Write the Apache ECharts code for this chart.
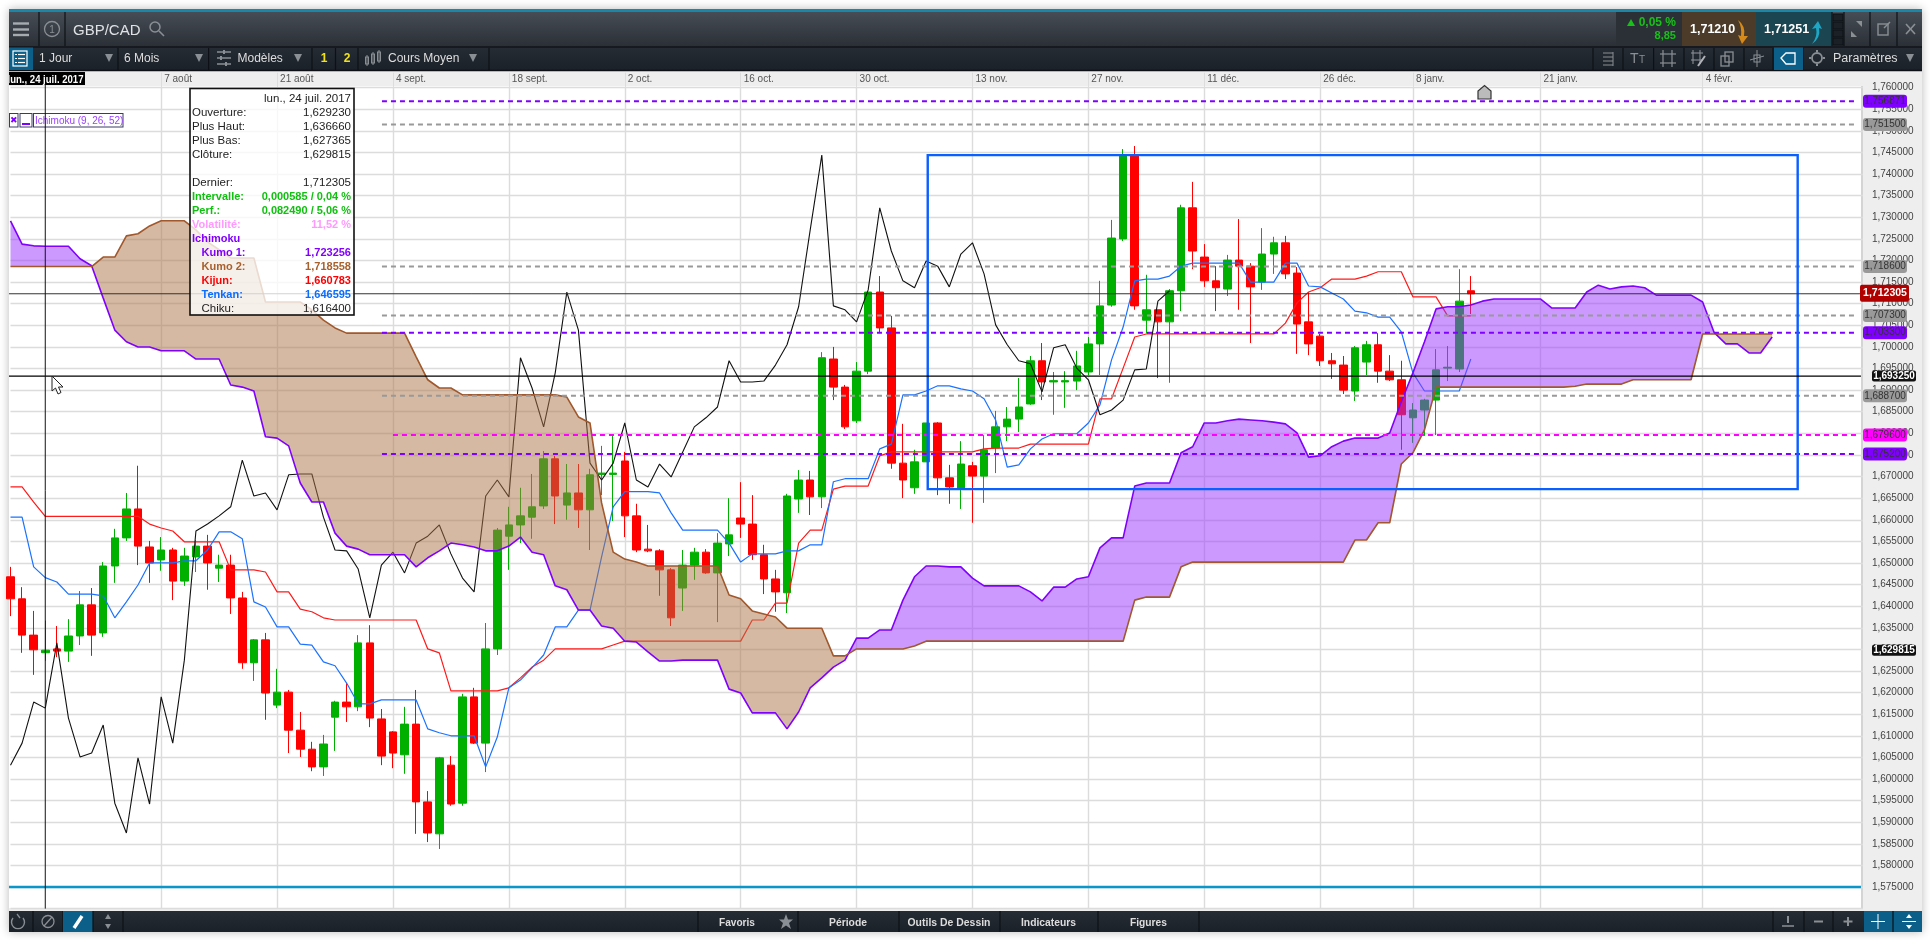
<!DOCTYPE html>
<html lang="fr"><head><meta charset="utf-8"><title>GBP/CAD</title>
<script src="https://cdn.jsdelivr.net/npm/echarts@6/dist/echarts.min.js"></script>
<style>
html,body{margin:0;padding:0;width:1930px;height:940px;background:#fff;overflow:hidden;font-family:"Liberation Sans",Arial,sans-serif}
#frame{position:absolute;left:9px;top:9px;width:1913px;height:923px;background:#fff;box-shadow:0 0 9px rgba(0,0,0,.28);z-index:0}
#band{position:absolute;left:9px;top:70px;width:1913px;height:16px;background:#eeeeee;z-index:1}
#strip{position:absolute;left:1861px;top:86px;width:61px;height:825px;background:#eeeeee;border-left:2px solid #d4d4d4;box-sizing:border-box;z-index:1}
#foot{position:absolute;left:9px;top:908px;width:1913px;height:3px;background:#eeeeee;z-index:1}
#chart{position:absolute;left:0;top:0;width:1930px;height:940px;z-index:2}
#chrome{position:absolute;left:0;top:0;width:1930px;height:940px;z-index:3;pointer-events:none}
</style></head><body>
<div id="frame"></div><div id="band"></div><div id="strip"></div><div id="foot"></div>
<div id="chart"></div><div id="chrome"></div>
<script>
// ---- data: every array starts at the session three candles before lun. 24 juil. 2017 ----
const tickOffsets=[10,20,30,40,50,60,70,80,90,100,110,118,129,143];
const tickLabels=['7 août','21 août','4 sept.','18 sept.','2 oct.','16 oct.','30 oct.','13 nov.','27 nov.','11 déc.','26 déc.','8 janv.','21 janv.','4 févr.'];
const opens=[1.6468,1.6417,1.6333,1.62923,1.6301,1.6296,1.6331,1.6403,1.6338,1.6493,
1.6558,1.6625,1.6537,1.6507,1.6530,1.6458,1.6514,1.6539,1.6488,1.6495,
1.6419,1.6269,1.6322,1.6171,1.6201,1.6113,1.6069,1.6028,1.6143,1.6178,
1.6167,1.6315,1.6139,1.6109,1.6056,1.6127,1.5947,1.5873,1.6032,1.5944,
1.6190,1.6083,1.6301,1.6562,1.6588,1.6606,1.6632,1.6741,1.6634,1.6662,
1.6623,1.6705,1.6705,1.6736,1.6609,1.6532,1.6528,1.6484,1.6442,1.6495,
1.6525,1.6477,1.6544,1.6604,1.6590,1.6519,1.6463,1.6431,1.6648,1.6692,
1.6653,1.6972,1.6907,1.6829,1.6944,1.7127,1.7044,1.6731,1.6674,1.6734,
1.6824,1.6697,1.6671,1.6725,1.6701,1.6766,1.6815,1.6833,1.6868,1.6968,
1.6919,1.6919,1.6921,1.6942,1.7007,1.7097,1.7250,1.7444,1.7062,1.7086,
1.7058,1.7130,1.7322,1.7208,1.7153,1.7134,1.7201,1.7187,1.7150,1.7215,
1.7241,1.7171,1.7058,1.7025,1.6968,1.6958,1.6898,1.6965,1.7005,1.6944,
1.6924,1.6836,1.6854,1.6877,1.6951,1.6949,1.7130];
const closes=[1.6417,1.6333,1.6299,1.629815,1.6296,1.6331,1.6403,1.6333,1.6493,1.6558,
1.6625,1.6539,1.6500,1.6530,1.6458,1.6516,1.6539,1.6500,1.6495,1.6419,
1.6269,1.6322,1.6199,1.6201,1.6113,1.6069,1.6028,1.6081,1.6178,1.6167,
1.6315,1.6141,1.6053,1.6060,1.6127,1.5947,1.5875,1.6049,1.5942,1.6190,
1.6083,1.6301,1.6576,1.6588,1.6609,1.6630,1.6741,1.6655,1.6662,1.6623,
1.6704,1.6708,1.6708,1.6609,1.6530,1.6528,1.6484,1.6373,1.6495,1.6525,
1.6477,1.6546,1.6565,1.6590,1.6519,1.6463,1.6433,1.6655,1.6692,1.6653,
1.6975,1.6907,1.6815,1.6944,1.7127,1.7044,1.6731,1.6692,1.6734,1.6824,
1.6697,1.6676,1.6729,1.6701,1.6762,1.6815,1.6833,1.6861,1.6968,1.6919,
1.6922,1.6922,1.6956,1.7007,1.7095,1.7252,1.7444,1.7095,1.7086,1.7058,
1.7130,1.7322,1.7222,1.7153,1.7137,1.7201,1.7187,1.7139,1.7215,1.7241,
1.7169,1.7053,1.7007,1.6968,1.6961,1.6900,1.6998,1.7005,1.6944,1.6924,
1.6843,1.6854,1.6877,1.6947,1.6953,1.7106,1.712305];
const lows=[1.6377,1.6292,1.6241,1.627365,1.6282,1.6271,1.6310,1.6285,1.6329,1.6454,
1.6551,1.6495,1.6454,1.6482,1.6414,1.6447,1.6479,1.6438,1.6456,1.6382,
1.6255,1.6227,1.6137,1.6164,1.6060,1.6051,1.6018,1.6007,1.6065,1.6132,
1.6157,1.6120,1.6032,1.6025,1.6012,1.5873,1.5854,1.5838,1.5938,1.5938,
1.6081,1.6016,1.6287,1.6484,1.6546,1.6556,1.6625,1.6590,1.6600,1.6581,
1.6530,1.6657,1.6597,1.6560,1.6525,1.6525,1.6424,1.6354,1.6389,1.6461,
1.6475,1.6363,1.6516,1.6558,1.6507,1.6428,1.6387,1.6384,1.6616,1.6611,
1.6627,1.6877,1.6810,1.6824,1.6937,1.7032,1.6718,1.6650,1.6660,1.6734,
1.6657,1.6637,1.6625,1.6593,1.6639,1.6708,1.6782,1.6803,1.6866,1.6877,
1.6843,1.6859,1.6900,1.6935,1.6935,1.7093,1.7245,1.7086,1.7032,1.6928,
1.6917,1.7083,1.7180,1.7139,1.7083,1.7118,1.7086,1.7009,1.7132,1.7169,
1.7157,1.6984,1.6981,1.6956,1.6926,1.6891,1.6875,1.6935,1.6917,1.6921,
1.6762,1.6778,1.6794,1.6796,1.6921,1.6942,1.7076];
const highs=[1.6491,1.6444,1.6389,1.63666,1.6354,1.6370,1.6435,1.6442,1.6502,1.6579,
1.6662,1.6725,1.6551,1.6560,1.6535,1.6535,1.6553,1.6565,1.6519,1.6519,
1.6433,1.6324,1.6338,1.6255,1.6206,1.6155,1.6086,1.6102,1.6181,1.6222,
1.6333,1.6356,1.6162,1.6111,1.6167,1.6206,1.5972,1.6051,1.6053,1.6197,
1.6211,1.6361,1.6581,1.6630,1.6674,1.6706,1.6759,1.6748,1.6729,1.6729,
1.6718,1.6771,1.6796,1.6757,1.6637,1.6588,1.6532,1.6488,1.6530,1.6535,
1.6532,1.6569,1.6650,1.6687,1.6657,1.6542,1.6484,1.6660,1.6715,1.6713,
1.6988,1.7000,1.6912,1.6965,1.7127,1.7164,1.7072,1.6822,1.6762,1.6824,
1.6826,1.6727,1.6782,1.6734,1.6796,1.6852,1.6861,1.6928,1.6979,1.7009,
1.6942,1.6944,1.6991,1.7023,1.7153,1.7294,1.7458,1.7465,1.7167,1.7086,
1.7134,1.7329,1.7382,1.7238,1.7187,1.7213,1.7296,1.7194,1.7275,1.7255,
1.7257,1.7185,1.7127,1.7030,1.6986,1.6979,1.7002,1.7014,1.7032,1.6981,
1.6968,1.6870,1.6880,1.6995,1.7002,1.7180,1.7164];
const kumo1=[1.7292,1.7238,1.7234,1.7233,1.7233,1.7233,1.7204,1.7188,1.7113,1.7039,
1.7012,1.7000,1.7000,1.6991,1.6991,1.6991,1.6972,1.6972,1.6972,1.6912,
1.6907,1.6898,1.6792,1.6789,1.6771,1.6685,1.6641,1.6641,1.6569,1.6539,
1.6532,1.6519,1.6519,1.6519,1.6519,1.6491,1.6512,1.6528,1.6546,1.6542,
1.6537,1.6528,1.6528,1.6539,1.6560,1.6525,1.6519,1.6447,1.6438,1.6391,
1.6391,1.6354,1.6349,1.6319,1.6317,1.6294,1.6273,1.6273,1.6275,1.6275,
1.6275,1.6275,1.6208,1.6199,1.6153,1.6153,1.6153,1.6116,1.6155,1.6211,
1.6234,1.6259,1.6275,1.6326,1.6326,1.6345,1.6345,1.6414,1.6468,1.6493,
1.6493,1.6491,1.6491,1.6465,1.6447,1.6447,1.6447,1.6447,1.6433,1.6412,
1.6444,1.6444,1.6463,1.6468,1.6535,1.6558,1.6558,1.6678,1.6685,1.6685,
1.6685,1.6755,1.6769,1.6824,1.6824,1.6829,1.6833,1.6831,1.6829,1.6826,
1.6822,1.6801,1.6745,1.6748,1.6769,1.6782,1.6789,1.6789,1.6789,1.6801,
1.6873,1.6940,1.7012,1.7088,1.7093,1.7093,1.7097,1.7106,1.7111,1.7111,
1.7111,1.7111,1.7111,1.7090,1.7090,1.7090,1.7127,1.7143,1.7134,1.7139,
1.7141,1.7137,1.7120,1.7120,1.7120,1.7120,1.7104,1.7033,1.7007,1.7007,
1.6986,1.6986,1.7023];
const kumo2=[1.7186,1.7186,1.7186,1.7186,1.7186,1.7186,1.7186,1.7186,1.7208,1.7208,
1.7257,1.7262,1.7280,1.7292,1.7292,1.7292,1.7271,1.7243,1.7225,1.7206,
1.7206,1.7206,1.7104,1.7104,1.7104,1.7104,1.7086,1.7062,1.7044,1.7032,
1.7032,1.7032,1.7032,1.7032,1.7032,1.6977,1.6924,1.6905,1.6905,1.6889,
1.6889,1.6889,1.6889,1.6889,1.6889,1.6889,1.6889,1.6889,1.6884,1.6838,
1.6824,1.6639,1.6525,1.6509,1.6502,1.6493,1.6493,1.6493,1.6493,1.6493,
1.6493,1.6493,1.6426,1.6417,1.6389,1.6382,1.6375,1.6349,1.6349,1.6349,
1.6349,1.6285,1.6285,1.6301,1.6301,1.6301,1.6301,1.6301,1.6308,1.6319,
1.6319,1.6319,1.6319,1.6319,1.6319,1.6319,1.6319,1.6319,1.6319,1.6319,
1.6319,1.6319,1.6319,1.6319,1.6319,1.6319,1.6319,1.6414,1.6421,1.6421,
1.6421,1.6491,1.6502,1.6502,1.6502,1.6502,1.6502,1.6502,1.6502,1.6502,
1.6502,1.6502,1.6502,1.6502,1.6502,1.6502,1.6553,1.6553,1.6593,1.6593,
1.6729,1.6755,1.6808,1.6907,1.6907,1.6907,1.6907,1.6907,1.6907,1.6907,
1.6907,1.6907,1.6907,1.6907,1.6907,1.6909,1.6914,1.6914,1.6914,1.6914,
1.6924,1.6924,1.6924,1.6924,1.6924,1.6924,1.7030,1.7030,1.7030,1.7030,
1.7030,1.7030,1.7030];
const kijun=[1.6676,1.6676,1.6641,1.6608,1.6608,1.6608,1.6608,1.6608,1.6608,1.6608,
1.6608,1.6608,1.6590,1.6581,1.6574,1.6549,1.6549,1.6549,1.6549,1.6484,
1.6484,1.6484,1.6479,1.6433,1.6433,1.6393,1.6387,1.6373,1.6368,1.6368,
1.6368,1.6368,1.6368,1.6368,1.6368,1.6368,1.6301,1.6292,1.6204,1.6204,
1.6204,1.6204,1.6204,1.6211,1.6234,1.6259,1.6275,1.6301,1.6301,1.6301,
1.6301,1.6301,1.6310,1.6319,1.6319,1.6319,1.6319,1.6319,1.6319,1.6319,
1.6319,1.6319,1.6319,1.6319,1.6368,1.6368,1.6407,1.6407,1.6546,1.6576,
1.6576,1.6671,1.6678,1.6678,1.6678,1.6748,1.6757,1.6757,1.6757,1.6757,
1.6757,1.6757,1.6757,1.6757,1.6764,1.6766,1.6766,1.6766,1.6775,1.6775,
1.6775,1.6775,1.6775,1.6775,1.6880,1.6880,1.6951,1.7023,1.7030,1.7030,
1.7030,1.7030,1.7030,1.7030,1.7030,1.7030,1.7030,1.7030,1.7030,1.7030,
1.7055,1.7102,1.7127,1.7137,1.7157,1.7157,1.7157,1.7164,1.7174,1.7174,
1.7174,1.7116,1.7116,1.7116,1.7072,1.7072,1.7072];
const tenkan=[1.6606,1.6606,1.6491,1.6466,1.6456,1.6428,1.6428,1.6428,1.6424,1.6373,
1.6410,1.6449,1.6500,1.6500,1.6500,1.6505,1.6505,1.6530,1.6572,1.6572,
1.6556,1.6410,1.6398,1.6352,1.6352,1.6312,1.6310,1.6271,1.6262,1.6222,
1.6174,1.6174,1.6183,1.6183,1.6183,1.6183,1.6116,1.6107,1.6100,1.6100,
1.6100,1.6028,1.6097,1.6211,1.6229,1.6257,1.6287,1.6352,1.6352,1.6391,
1.6391,1.6514,1.6630,1.6665,1.6665,1.6665,1.6662,1.6616,1.6576,1.6576,
1.6576,1.6576,1.6546,1.6502,1.6521,1.6521,1.6521,1.6528,1.6528,1.6542,
1.6542,1.6688,1.6695,1.6695,1.6695,1.6764,1.6775,1.6889,1.6889,1.6898,
1.6910,1.6910,1.6903,1.6898,1.6880,1.6831,1.6722,1.6727,1.6764,1.6787,
1.6799,1.6799,1.6799,1.6824,1.6866,1.6970,1.7046,1.7153,1.7157,1.7157,
1.7164,1.7187,1.7194,1.7194,1.7194,1.7194,1.7194,1.7150,1.7150,1.7150,
1.7194,1.7194,1.7141,1.7139,1.7125,1.7111,1.7083,1.7079,1.7069,1.7069,
1.7035,1.6940,1.6898,1.6898,1.6898,1.6898,1.6972];
const chiku=[1.6032,1.6083,1.6178,1.6164,1.6315,1.6141,1.6051,1.6060,1.6125,1.5944,
1.5875,1.6049,1.5942,1.6190,1.6083,1.6275,1.6574,1.6590,1.6609,1.6630,
1.6738,1.6655,1.6662,1.6623,1.6704,1.6706,1.6706,1.6606,1.6530,1.6528,
1.6486,1.6373,1.6495,1.6525,1.6477,1.6546,1.6562,1.6588,1.6521,1.6465,
1.6433,1.6655,1.6692,1.6653,1.6975,1.6905,1.6815,1.6940,1.7127,1.7039,
1.6731,1.6692,1.6731,1.6824,1.6692,1.6676,1.6729,1.6699,1.6757,1.6815,
1.6836,1.6861,1.6968,1.6919,1.6919,1.6921,1.6958,1.7005,1.7093,1.7271,
1.7444,1.7095,1.7086,1.7058,1.7132,1.7322,1.7222,1.7153,1.7137,1.7199,
1.7187,1.7139,1.7215,1.7241,1.7169,1.7051,1.7005,1.6968,1.6961,1.6896,
1.6998,1.7005,1.6951,1.6924,1.6843,1.6854,1.6877,1.6947,1.6949,1.7106,
1.7130];
const levelValues=[1.756871,1.7515,1.7186,1.7073,1.7033,1.6887,1.6796,1.6752];
const levelTexts=['1,756871','1,751500','1,718600','1,707300','1,703300','1,688700','1,679600','1,675200'];
const levelColors=['#8000ff','#999999','#999999','#999999','#8000ff','#999999','#ff00ff','#8000ff'];
const levelStarts=[32.05,32.05,32.05,32.05,32.05,32.05,33,32.05];
const priceTags=[1.712305,1.69325,1.629815];
const boxSides=[79.14,154.2];
const boxPrices=[1.7444,1.6671];
const solidPrices=[1.712305,1.69325,1.575];
const solidColors=['#333333','#000000','#0a96c8'];
const solidWidths=[1,1.2,2.5];

// ---- chart ----
const LAST=160;
const categories=Array.from({length:LAST+1},(_,k)=>'j'+(k-3));
const tickMap={};tickOffsets.forEach((o,n)=>{tickMap[o+3]=tickLabels[n];});
const isTick=i=>tickMap[i]!==undefined;
const candles=opens.map((o,k)=>[o,closes[k],lows[k],highs[k]]);

function regionsOf(a,b){
  const out=[];let cur=null;
  for(let k=0;k<a.length;k++){
    const up=a[k]>=b[k];
    if(cur&&cur.up!==up){
      const d0=a[k-1]-b[k-1],d1=a[k]-b[k],t=d0/(d0-d1);
      const v=a[k-1]+t*(a[k]-a[k-1]);
      cur.pts.push([k-1+t,v,v]);out.push(cur);
      cur={up,pts:[[k-1+t,v,v]]};
    }
    if(!cur)cur={up,pts:[]};
    cur.pts.push([k,a[k],b[k]]);
  }
  out.push(cur);return out;
}
const regions=regionsOf(kumo1,kumo2);
function at(api,f,v){const c0=api.coord([0,v]),c1=api.coord([1,v]);return [c0[0]+f*(c1[0]-c0[0]),c0[1]];}

function lineSeries(name,values,color,width,z){
  return {name,type:'line',data:values,symbol:'none',showSymbol:false,smooth:false,z,silent:true,
    lineStyle:{color,width},itemStyle:{color},animation:false};
}
const font='"Liberation Sans",Arial,sans-serif';
const tagX=1885;
const option={
  animation:false,backgroundColor:'transparent',
  grid:{left:10.5,right:65.1,top:87.7,bottom:31.4,containLabel:false},
  xAxis:{type:'category',position:'top',data:categories,boundaryGap:false,
    axisLine:{show:false},
    axisTick:{show:true,length:15,interval:i=>isTick(i),alignWithLabel:true,lineStyle:{color:'#dddddd',width:1}},
    splitLine:{show:true,interval:i=>isTick(i),lineStyle:{color:'#dcdcdc',width:1.4}},
    axisLabel:{show:true,interval:i=>isTick(i),formatter:(v,i)=>tickMap[i]||'',align:'left',verticalAlign:'bottom',
      padding:[0,0,0,3],margin:3,color:'#555555',fontSize:10,fontFamily:font,hideOverlap:false}},
  yAxis:{type:'value',position:'right',min:1.57,max:1.76,interval:0.005,scale:false,
    axisLine:{show:false},axisTick:{show:false},
    splitLine:{show:true,lineStyle:{color:'#dcdcdc',width:1.4}},
    axisLabel:{show:true,margin:7,color:'#444444',fontSize:10,fontFamily:font,padding:[6,0,0,0],
      formatter:v=>v.toFixed(6).replace('.',','),showMinLabel:false}},
  series:[
    {name:'cover',type:'custom',z:1,silent:true,data:[[0,1.7]],encode:{x:0,y:1},
      renderItem:(p,api)=>{const t=api.coord([0,1.76])[1],b=api.coord([0,1.57])[1];
        return {type:'rect',shape:{x:1863,y:t-2,width:5,height:b-t+4},style:{fill:'#eeeeee'}};}},
    {name:'GBP/CAD',type:'candlestick',data:candles,barWidth:8,z:2,silent:true,animation:false,
      itemStyle:{color:'#00b000',color0:'#ff0000',borderColor:'#00b000',borderColor0:'#ff0000',borderWidth:1}},
    lineSeries('Kijun',kijun,'#ff1a1a',1.2,3),
    lineSeries('Tenkan',tenkan,'#1a72ff',1.2,3),
    lineSeries('Chiku',chiku,'#111111',1.1,3),
    {name:'Kumo',type:'custom',z:4,silent:true,data:regions.map(r=>[0,r.pts[0][1]]),encode:{x:0,y:1},
      renderItem:(p,api)=>{const r=regions[p.dataIndex];
        const pts=r.pts.map(q=>at(api,q[0],q[1])).concat(r.pts.slice().reverse().map(q=>at(api,q[0],q[2])));
        return {type:'polygon',shape:{points:pts},
          style:{fill:r.up?'rgba(153,51,255,0.5)':'rgba(173,115,71,0.5)',stroke:null}};}},
    lineSeries('Kumo 1',kumo1,'#8000ff',1.6,5),
    lineSeries('Kumo 2',kumo2,'#a0582c',1.6,5),
    {name:'Niveaux',type:'custom',z:6,silent:true,data:levelValues.map(v=>[0,v]),encode:{x:0,y:1},
      renderItem:(p,api)=>{const i=p.dataIndex,v=levelValues[i];
        const a=at(api,levelStarts[i],v),b=at(api,159.4,v);
        return {type:'line',shape:{x1:a[0],y1:a[1],x2:b[0],y2:b[1]},
          style:{stroke:levelColors[i],lineWidth:2,lineDash:[5,4]}};}},
    {name:'Zone',type:'custom',z:6,silent:true,data:[[0,boxPrices[0]]],encode:{x:0,y:1},
      renderItem:(p,api)=>{const a=at(api,boxSides[0],boxPrices[0]),b=at(api,boxSides[1],boxPrices[1]);
        return {type:'rect',shape:{x:a[0],y:a[1],width:b[0]-a[0],height:b[1]-a[1]},
          style:{fill:'transparent',stroke:'#0a5fff',lineWidth:2.4}};}},
    {name:'Cours',type:'custom',z:6,silent:true,data:solidPrices.map(v=>[0,v]),encode:{x:0,y:1},
      renderItem:(p,api)=>{const i=p.dataIndex,v=solidPrices[i];
        const a=at(api,-0.13,v),b=at(api,159.66,v);
        return {type:'line',shape:{x1:a[0],y1:a[1],x2:b[0],y2:b[1]},
          style:{stroke:solidColors[i],lineWidth:solidWidths[i]}};}},
    {name:'Curseur',type:'custom',z:6,silent:true,data:[[3,1.7636]],encode:{x:0,y:1},
      renderItem:(p,api)=>{const a=at(api,3,1.7636),b=at(api,3,1.57);
        return {type:'line',shape:{x1:a[0],y1:a[1],x2:b[0],y2:b[1]},style:{stroke:'#111111',lineWidth:1}};}},
    {name:'Etiquettes',type:'custom',z:7,silent:true,data:levelValues.map(v=>[0,v]),encode:{x:0,y:1},
      renderItem:(p,api)=>{const i=p.dataIndex,y=api.coord([0,levelValues[i]])[1];
        return {type:'group',children:[
          {type:'rect',shape:{x:tagX-22,y:y-6.5,width:44,height:13,r:3},style:{fill:levelColors[i]}},
          {type:'text',style:{x:tagX,y:y,text:levelTexts[i],fill:'#333333',font:'10px '+font,align:'center',verticalAlign:'middle'}}]};}},
    {name:'Prix',type:'custom',z:7,silent:true,data:priceTags.map(v=>[0,v]),encode:{x:0,y:1},
      renderItem:(p,api)=>{const i=p.dataIndex,v=priceTags[i],y=api.coord([0,v])[1];
        const txt=v.toFixed(6).replace('.',',');
        if(i===0)return {type:'group',children:[
          {type:'rect',shape:{x:1860,y:y-9,width:49,height:17,r:2},style:{fill:'#b00000'}},
          {type:'text',style:{x:1885,y:y-0.5,text:txt,fill:'#ffffff',font:'bold 10.5px '+font,align:'center',verticalAlign:'middle'}}]};
        return {type:'group',children:[
          {type:'rect',shape:{x:1872,y:y-5.5,width:44,height:11,r:2},style:{fill:'#111111'}},
          {type:'text',style:{x:1894,y:y,text:txt,fill:'#ffffff',font:'bold 10px '+font,align:'center',verticalAlign:'middle'}}]};}}
  ]
};
const chart=echarts.init(document.getElementById('chart'),null,{renderer:'canvas',width:1930,height:940});
chart.setOption(option);

// ---- platform chrome (toolbars, info box) ----
const s=[];
const R=(x,y,w,h,f,e='')=>s.push(`<rect x="${x}" y="${y}" width="${w}" height="${h}" fill="${f}" ${e}/>`);
const L=(a,b,c,d,st,w=1)=>s.push(`<line x1="${a}" y1="${b}" x2="${c}" y2="${d}" stroke="${st}" stroke-width="${w}"/>`);
const T=(x,y,t,o={})=>s.push(`<text x="${x}" y="${y}" dominant-baseline="central" font-family="Liberation Sans, Arial, sans-serif" font-size="${o.s||12}" fill="${o.f||'#dddddd'}" text-anchor="${o.a||'start'}" font-weight="${o.w||'normal'}"${o.l?` textLength="${o.l}" lengthAdjust="spacingAndGlyphs"`:''}>${t}</text>`);
const P=(pts,f,e='')=>s.push(`<polygon points="${pts}" fill="${f}" ${e}/>`);
const C=(x,y,r,st,w=1.5,f='none')=>s.push(`<circle cx="${x}" cy="${y}" r="${r}" stroke="${st}" stroke-width="${w}" fill="${f}"/>`);
const tri=(x,y)=>P(`${x-4},${y-4} ${x+4},${y-4} ${x},${y+4}`,'#8a8f95');
const sep=(x,a,b)=>L(x,a,x,b,'#0d1116',1.2);
s.push(`<defs>
<linearGradient id="g1" x1="0" y1="0" x2="0" y2="1"><stop offset="0" stop-color="#474d55"/><stop offset="1" stop-color="#2a2f36"/></linearGradient>
<linearGradient id="g2" x1="0" y1="0" x2="0" y2="1"><stop offset="0" stop-color="#262c34"/><stop offset="1" stop-color="#1b2129"/></linearGradient>
</defs>`);
// top bars
R(9,9,1913,3,'#1a86a8');
R(9,12,1913,35,'url(#g1)');
R(9,47,1913,23.5,'url(#g2)');
L(9,47,1922,47,'#10141a',1.5);
L(9,70.5,1922,70.5,'#0d1116',1.5);
// menu + symbol
for(const y of [23.5,29.5,35])L(13,y,29,y,'#a6abb0',2.4);
sep(39,12,46);C(52,29,7.5,'#8a8f95',1.3);T(52,29,'1',{s:10,a:'middle',f:'#8a8f95'});sep(65,12,46);
T(73,29,'GBP/CAD',{s:15,f:'#dfe2e5'});
C(155,27,5,'#8a8f95',1.5);L(159,31,164,36,'#8a8f95',1.6);
// second row left
R(9,47.5,24,22.5,'#0b5f88');
R(13,51,14,15,'none','stroke="#ffffff" stroke-width="1.2"');
for(const y of [54.5,58.5,62.5]){L(15,y,17,y,'#fff',1.2);L(18,y,25,y,'#fff',1.2);}
T(39,58,'1 Jour');tri(109,58);sep(118,48,70);
T(124,58,'6 Mois');tri(199,58);sep(208.6,48,70);
for(const [y,a] of [[52,224],[58,221],[64,226]]){L(217,y,231,y,'#8a8f95',1.5);L(a,y-2,a,y+2,'#8a8f95',2);}
T(237.5,58,'Modèles');tri(298,58);sep(312,48,70);
T(324,58,'1',{f:'#f2e21a',w:'bold',a:'middle'});sep(335.5,48,70);
T(347,58,'2',{f:'#f2e21a',w:'bold',a:'middle'});sep(358,48,70);
for(const [x,y,h] of [[367,57,7],[373,54,9],[379,52,9]]){R(x-1.5,y,3,h,'none','stroke="#8a8f95"');L(x,y-2,x,y+h+2,'#8a8f95',1);}
T(388,58,'Cours Moyen');tri(473,58);sep(489,48,70);
// top row right
R(1616,12,66,34,'#2a3036');
P('1627,26 1635,26 1631,19','#18c018');
T(1676,22,'0,05 %',{f:'#18c018',w:'bold',s:12,a:'end'});
T(1676,35,'8,85',{f:'#18c018',w:'bold',s:11,a:'end'});
R(1682,12,74,34,'#4b3b28');
T(1690,29,'1,71210',{f:'#ffffff',w:'bold',s:12.5});
s.push('<path d="M1738 20 Q1746 26 1744 36 L1748 36 L1742 44 L1738 35 L1741 36 Q1742 27 1738 20Z" fill="#d68a1a"/>');
R(1756,12,76,34,'#1b4551');
T(1764,29,'1,71251',{f:'#ffffff',w:'bold',s:12.5});
s.push('<path d="M1812 44 Q1818 36 1816 28 L1812 29 L1818 21 L1822 29 L1819 28 Q1821 38 1812 44Z" fill="#1fa6c4"/>');
for(const y of [14,22,30,38])R(1833,y,10,7,'#1b2027','stroke="#0d1116"');
sep(1832,12,46);sep(1844,12,46);sep(1870,12,46);sep(1897,12,46);
P('1851,37 1851,31 1857,37','#8a8f95');P('1862,21 1862,27 1856,21','#8a8f95');
R(1878,24,10,11,'none','stroke="#8a8f95" stroke-width="1.4"');L(1884,28,1890,22,'#8a8f95',1.4);
L(1906,24,1915,34,'#8a8f95',1.6);L(1915,24,1906,34,'#8a8f95',1.6);
// second row right
for(const x of [1593,1623,1653.6,1684,1714,1744,1773,1803])sep(x,48,70);
R(1774,47.5,29,22.5,'#0b5f88');
for(const y of [53,57,61,65])L(1603,y,1613,y,'#8a8f95',1);L(1613,52,1613,66,'#8a8f95',1);
T(1630,58,'T',{s:14,f:'#8a8f95'});T(1639,59,'T',{s:10,f:'#8a8f95'});
for(const x of [1663,1672])L(x,50,x,67,'#8a8f95',1.2);for(const y of [54,63])L(1660,y,1676,y,'#8a8f95',1.2);
for(const x of [1693,1700])L(x,50,x,64,'#8a8f95',1.1);for(const y of [53,60])L(1691,y,1703,y,'#8a8f95',1.1);
L(1698,66,1705,56,'#b0b4b8',2);
R(1721,56,8,10,'none','stroke="#8a8f95" stroke-width="1.3"');R(1725,52,8,10,'none','stroke="#8a8f95" stroke-width="1.3"');
L(1757,50,1757,67,'#8a8f95',1);R(1754,55,6,7,'none','stroke="#8a8f95"');L(1750,60,1764,56,'#8a8f95',1);
P('1781,58 1786,53 1795,53 1795,64 1786,64','none','stroke="#ffffff" stroke-width="1.3"');
C(1817,58,5,'#8a8f95',1.8);
for(const [x,y] of [[1817,51],[1817,65],[1810,58],[1824,58]])R(x-1,y-1,2,2,'#8a8f95');
T(1833,58,'Paramètres',{s:12.5});tri(1910,58);
// bottom bar
R(9,911,1913,21,'url(#g2)');
s.push('<path d="M13 918 A6.5 6.5 0 1 0 23 918" fill="none" stroke="#8a8f95" stroke-width="1.4"/>');L(17,914,20,918,'#8a8f95',1.3);
sep(33,911,932);C(48,921.5,6,'#8a8f95',1.3);L(44,926,52,917,'#8a8f95',1.3);sep(63,911,932);
R(63,911,30,21,'#0b5f88');L(74,928,82,916,'#ffffff',3.4);
P('105,919 111,919 108,914','#8a8f95');P('105,924 111,924 108,929','#8a8f95');sep(93,911,932);sep(123,911,932);
const bt={s:11.5,w:'bold',f:'#dddddd'};
sep(698,911,932);T(719,921.5,'Favoris',{...bt,l:36});
P('786,914 788,919.5 793,919.5 789,923 791,929 786,925.5 781,929 783,923 779,919.5 784,919.5','#8a8f95');
sep(798,911,932);T(829,921.5,'Période',{...bt,l:38});
sep(899,911,932);T(907.5,921.5,'Outils De Dessin',{...bt,l:83});
sep(1000,911,932);T(1021,921.5,'Indicateurs',{...bt,l:55});
sep(1098,911,932);T(1130,921.5,'Figures',{...bt,l:37});sep(1199,911,932);
sep(1773,911,932);L(1788,916,1788,923,'#8a8f95',2);L(1782,926,1794,926,'#8a8f95',1.5);
sep(1804,911,932);L(1814,921.5,1823,921.5,'#8a8f95',2);sep(1833,911,932);
L(1843.5,921.5,1852.5,921.5,'#8a8f95',2);L(1848,917,1848,926,'#8a8f95',2);
R(1864,911,58,21,'#0b5f88');
L(1871,921.5,1885,921.5,'#ffffff',1);L(1878,914,1878,929,'#ffffff',1);sep(1893,911,932);
L(1902,921.5,1916,921.5,'#ffffff',1);P('1906,918 1912,918 1909,914','#ffffff');P('1906,925 1912,925 1909,929','#ffffff');
// date box on the axis band
R(9,72,76,13,'#000000');
s.push('<svg x="9" y="72" width="76" height="13"><text x="-1.5" y="6.8" dominant-baseline="central" font-family="Liberation Sans, Arial, sans-serif" font-size="10.5" font-weight="bold" fill="#ffffff" textLength="76" lengthAdjust="spacingAndGlyphs">lun., 24 juil. 2017</text></svg>');
// home marker
P('1478,99 1478,91 1484.5,85.5 1491,91 1491,99','#bbbbbb','stroke="#333333" stroke-width="1.2"');
// legend tag
R(9.5,113.5,8.5,13.5,'#fff','stroke="#3a3a66"');T(10,120,'✖',{s:9,f:'#8000ff'});
R(20,113.5,12,13.5,'#fff','stroke="#3a3a66"');L(22,124,30,124,'#8000ff',2);
R(33.5,113.5,89.5,13.5,'#fff','stroke="#3a3a66"');T(35,120.5,'Ichimoku (9, 26, 52)',{s:10,f:'#9a40ff'});
L(45.3,113,45.3,127.5,'#111111',1);
// info box
R(190,88.5,164,226.5,'rgba(255,255,255,0.78)','stroke="#111111" stroke-width="1.6"');
const LX=192,IX=201.5,VX=351,fs=11.5;
const rows=[
 [98,'','lun., 24 juil. 2017','#222222',LX,0],
 [112,'Ouverture:','1,629230','#222222',LX,0],[126,'Plus Haut:','1,636660','#222222',LX,0],
 [140,'Plus Bas:','1,627365','#222222',LX,0],[154,'Clôture:','1,629815','#222222',LX,0],
 [182,'Dernier:','1,712305','#222222',LX,0],[196,'Intervalle:','0,000585 / 0,04 %','#10c010',LX,1],
 [210,'Perf.:','0,082490 / 5,06 %','#10c010',LX,1],[224,'Volatilité:','11,52 %','#ff99ff',LX,1],
 [238,'Ichimoku','','#8000ff',LX,1],[252,'Kumo 1:','1,723256','#8000ff',IX,1],
 [266,'Kumo 2:','1,718558','#a8602c',IX,1],[280,'Kijun:','1,660783','#ff0000',IX,1],
 [294,'Tenkan:','1,646595','#0a6cff',IX,1],[308,'Chiku:','1,616400','#222222',IX,0]];
for(const [y,a,b,c,x,bold] of rows){const o=bold?{s:11,w:'bold',f:c}:{s:fs,f:c};if(a)T(x,y,a,o);if(b)T(VX,y,b,{...o,a:'end'});}
// mouse pointer
P('52,376 52,391 55.5,388 58,394 61,392.5 58.5,387 63,387','#ffffff','stroke="#222222" stroke-width="1"');
document.getElementById('chrome').innerHTML=`<svg xmlns="http://www.w3.org/2000/svg" width="1930" height="940" viewBox="0 0 1930 940">${s.join('')}</svg>`;
</script>
</body></html>
